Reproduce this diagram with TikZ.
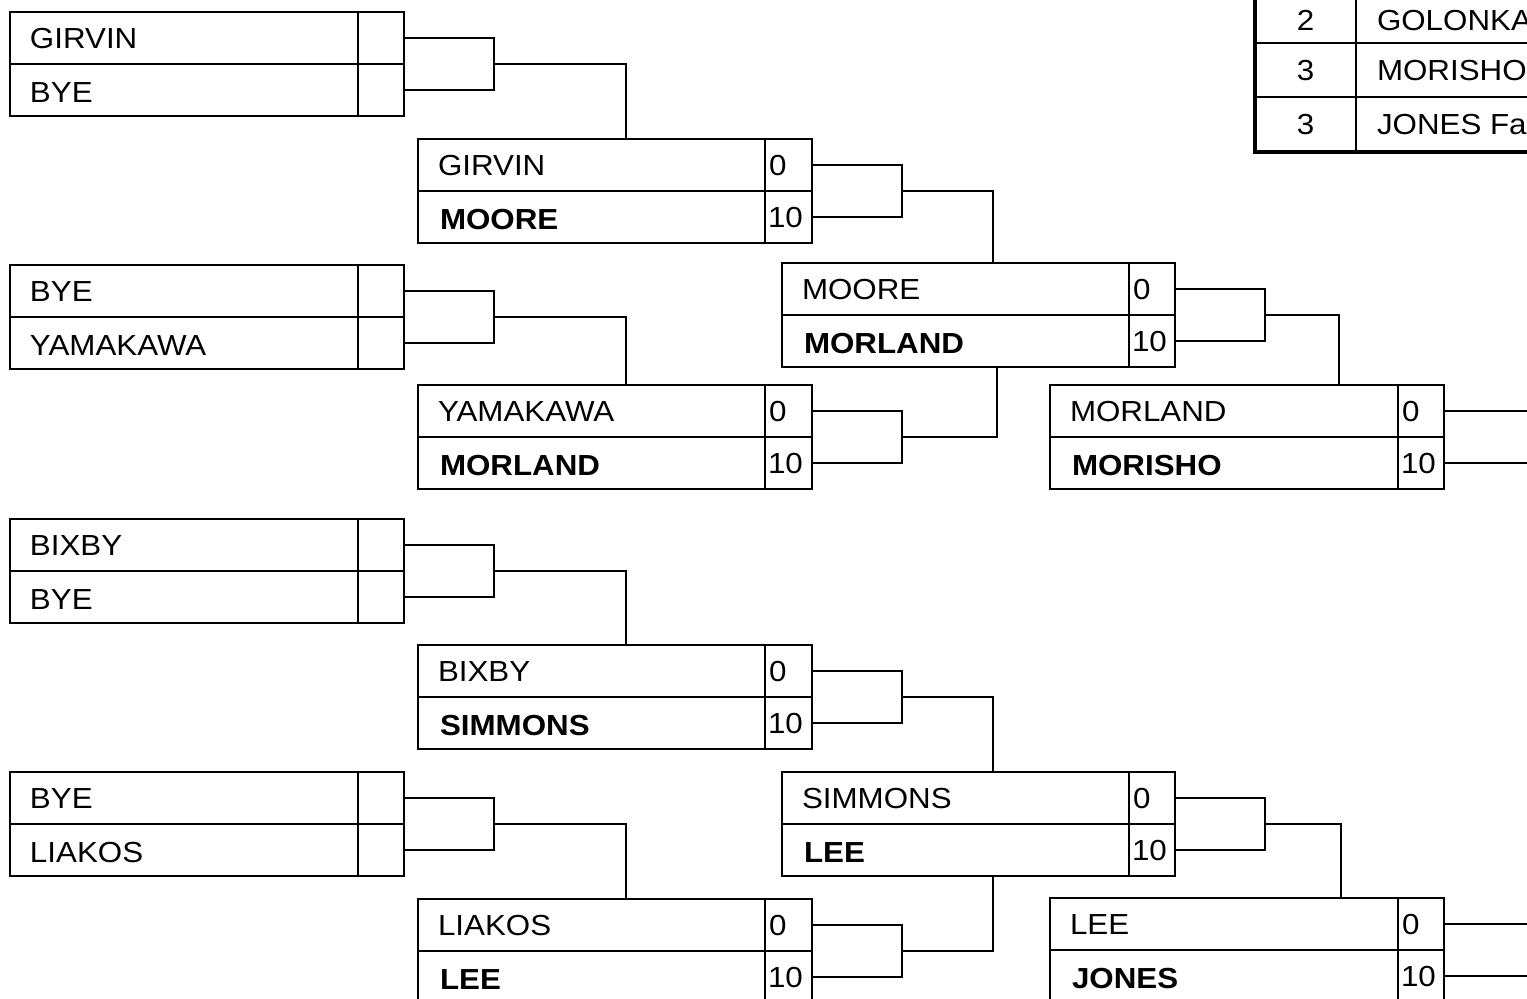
\documentclass[tikz,border=0pt]{standalone}
\usepackage{fontspec}
\setmainfont{Liberation Sans}[FakeStretch=1.08]
\usetikzlibrary{calc}
\tikzset{
  cell/.style={draw, line width=2pt, minimum height=52pt, inner sep=0pt, outer sep=0pt},
  tcell/.style={draw, line width=2pt, minimum height=54.5pt, inner sep=0pt, outer sep=0pt},
  lbl/.style={anchor=west, inner sep=0pt, outer sep=0pt, text height=21pt, text depth=0pt, font=\fontsize{29}{34}\selectfont},
  conn/.style={line width=2pt}
}
\newcommand\matchbox[9]{%
  \node[cell, minimum width=#4pt, anchor=north west] (#1-t) at (#2,#3) {};
  \node[cell, minimum width=#4pt, anchor=north west] (#1-b) at (#1-t.south west) {};
  \node[cell, minimum width=#5pt, anchor=north west] (#1-ts) at (#1-t.north east) {};
  \node[cell, minimum width=#5pt, anchor=north west] (#1-bs) at (#1-t.south east) {};
  \node[lbl] (#1-tn) at ([xshift=20pt]#1-t.west) {#6};
  \node[lbl] (#1-bn) at ([xshift=20pt,yshift=-2pt]#1-b.west) {#7};
  \node[lbl] (#1-tsn) at ([xshift=4pt]#1-ts.west) {#8};
  \node[lbl] (#1-bsn) at ([xshift=3pt]#1-bs.west) {#9};
}
\newcommand\wb[1]{\hspace*{2pt}\textbf{#1}}
\begin{document}
\begin{tikzpicture}[x=1pt,y=-1pt]
\useasboundingbox (0,0) rectangle (1527,999);
\fill[white] (0,0) rectangle (1527,999);
\clip (0,0) rectangle (1527,999);

% round 1
\matchbox{A}{10}{12}{348}{46}{GIRVIN}{BYE}{}{}
\matchbox{B}{10}{265}{348}{46}{BYE}{YAMAKAWA}{}{}
\matchbox{C}{10}{519}{348}{46}{BIXBY}{BYE}{}{}
\matchbox{D}{10}{772}{348}{46}{BYE}{LIAKOS}{}{}
% round 2
\matchbox{E}{418}{139}{347}{47}{GIRVIN}{\wb{MOORE}}{0}{10}
\matchbox{F}{418}{385}{347}{47}{YAMAKAWA}{\wb{MORLAND}}{0}{10}
\matchbox{G}{418}{645}{347}{47}{BIXBY}{\wb{SIMMONS}}{0}{10}
\matchbox{H}{418}{899}{347}{47}{LIAKOS}{\wb{LEE}}{0}{10}
% round 3
\matchbox{I}{782}{263}{347}{46}{MOORE}{\wb{MORLAND}}{0}{10}
\matchbox{J}{782}{772}{347}{46}{SIMMONS}{\wb{LEE}}{0}{10}
% round 4
\matchbox{K}{1050}{385}{348}{46}{MORLAND}{\wb{MORISHO}}{0}{10}
\matchbox{L}{1050}{898}{348}{46}{LEE}{\wb{JONES}}{0}{10}

% connectors round 1 -> 2
\foreach \s/\t in {A/E,B/F,C/G,D/H}{
  \draw[conn] (\s-ts.east) -- ++(90pt,0) coordinate (\s-k) |- (\s-bs.east);
  \draw[conn] (\s-k |- \s-ts.south) -| ([xshift=208pt]\t-t.north west);
}
% round 2 -> 3
\foreach \s in {E,F,G,H}{
  \draw[conn] (\s-ts.east) -- ++(90pt,0) coordinate (\s-k) |- (\s-bs.east);
}
\draw[conn] (E-k |- E-ts.south) -| ([xshift=211pt]I-t.north west);
\draw[conn] (F-k |- F-ts.south) -| ([xshift=215pt]I-b.south west);
\draw[conn] (G-k |- G-ts.south) -| ([xshift=211pt]J-t.north west);
\draw[conn] (H-k |- H-ts.south) -| ([xshift=211pt]J-b.south west);
% round 3 -> 4
\foreach \s in {I,J}{
  \draw[conn] (\s-ts.east) -- ++(90pt,0) coordinate (\s-k) |- (\s-bs.east);
}
\draw[conn] (I-k |- I-ts.south) -| ([xshift=289pt]K-t.north west);
\draw[conn] (J-k |- J-ts.south) -| ([xshift=291pt]L-t.north west);
% round 4 -> off
\foreach \s in {K,L}{
  \coordinate (\s-o1) at ([xshift=120pt]\s-ts.east);
  \coordinate (\s-o2) at ([xshift=120pt]\s-bs.east);
  \draw[conn] (\s-ts.east) -- (\s-o1);
  \draw[conn] (\s-bs.east) -- (\s-o2);
}

% standings table
\node[tcell, minimum width=101pt, anchor=north west] (T1a) at (1255,-12) {};
\node[tcell, minimum width=260pt, anchor=north west] (T1b) at (T1a.north east) {};
\node[tcell, minimum width=101pt, anchor=north west] (T2a) at (T1a.south west) {};
\node[tcell, minimum width=260pt, anchor=north west] (T2b) at (T2a.north east) {};
\node[tcell, minimum width=101pt, anchor=north west] (T3a) at (T2a.south west) {};
\node[tcell, minimum width=260pt, anchor=north west] (T3b) at (T3a.north east) {};
\draw[line width=4pt] (T1a.north west) -- (T3a.south west) -- (T3b.south east);
\node[lbl, anchor=center] (T1n) at ([yshift=-5pt]T1a.center) {2};
\node[lbl] (T1t) at ([xshift=21pt,yshift=-5pt]T1b.west) {GOLONKA};
\node[lbl, anchor=center] (T2n) at (T2a.center) {3};
\node[lbl] (T2t) at ([xshift=21pt]T2b.west) {MORISHO};
\node[lbl, anchor=center] (T3n) at (T3a.center) {3};
\node[lbl] (T3t) at ([xshift=21pt]T3b.west) {JONES Fa};
\end{tikzpicture}
\end{document}
